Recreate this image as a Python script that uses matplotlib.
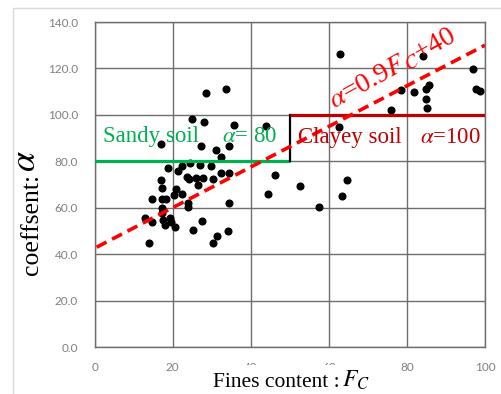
import matplotlib
matplotlib.use("Agg")
import matplotlib.pyplot as plt
from matplotlib.patches import Rectangle

# ---- data ----
fines_content = [17.1, 27.3, 31.1, 34.5, 32.3, 22.3, 24.4, 27.0, 29.8, 18.7, 21.4, 23.6,
                 24.2, 25.9, 27.7, 32.3, 34.4, 17.0, 30.4, 26.5, 17.2, 20.8, 20.4, 22.3,
                 14.6, 17.3, 18.3, 24.0, 24.0, 34.4, 17.2, 17.3, 12.9, 14.6, 17.6, 19.3,
                 18.0, 19.5, 20.7, 27.4, 25.3, 14.0, 31.4, 34.1, 30.2,
                 28.5, 33.6, 25.0, 28.0, 35.8,
                 43.8, 62.6, 46.3, 52.6, 44.5, 64.7, 63.3, 57.4, 62.8,
                 84.2, 78.4, 81.8, 85.7, 85.0, 85.0, 85.2, 76.0, 97.0, 97.6, 98.7]
alpha_coef = [87.6, 86.7, 84.9, 86.6, 81.9, 78.0, 79.1, 78.4, 78.0, 77.0, 76.0, 73.4,
              72.3, 72.9, 72.7, 74.8, 74.8, 72.0, 72.3, 69.8, 68.4, 68.1, 65.5, 65.9,
              63.8, 63.6, 63.6, 62.2, 60.5, 62.2, 59.8, 57.6, 55.7, 54.0, 54.7, 55.4,
              52.6, 53.7, 51.6, 54.4, 50.4, 44.7, 48.0, 50.1, 44.7,
              109.6, 111.2, 98.3, 97.1, 95.8,
              95.2, 94.9, 74.1, 69.4, 65.9, 72.0, 65.1, 60.5, 126.1,
              125.5, 110.7, 110.0, 112.9, 111.0, 106.7, 103.1, 102.1, 119.8, 111.0, 110.3]

fit_x = [0.5, 100]
fit_y = [43.0, 130.0]

sandy_x = [0, 50]
sandy_y = [80, 80]
step_x = [50, 50]
step_y = [80, 100]
clayey_x = [50, 100]
clayey_y = [100, 100]

x_ticks = [0, 20, 40, 60, 80, 100]
y_ticks = [0, 20, 40, 60, 80, 100, 120, 140]

# ---- figure ----
plt.rcParams['mathtext.fontset'] = 'stix'
plt.rcParams['lines.scale_dashes'] = False
serif = ['Liberation Serif', 'DejaVu Serif']

fig = plt.figure(figsize=(5.02, 3.94), dpi=100)
fig.patches.append(Rectangle((13/502, -0.1), 1.2, (394-8)/394 + 0.1,
                             transform=fig.transFigure, fill=False,
                             edgecolor='#d9d9d9', linewidth=1.0, zorder=0))
ax = fig.add_axes([94.7/502, 1-347/394, (485-94.7)/502, (347-22)/394])

ax.set_xlim(0, 100)
ax.set_ylim(0, 140)
ax.set_xticks(x_ticks)
ax.set_yticks(y_ticks)
ax.set_xticklabels([str(v) for v in x_ticks])
ax.set_yticklabels([f"{v:.1f}" for v in y_ticks])
ax.tick_params(length=0, labelsize=8.5, labelcolor='#7f7f7f')
ax.tick_params(axis='y', pad=12)
ax.tick_params(axis='x', pad=11)
for lab in ax.get_xticklabels() + ax.get_yticklabels():
    lab.set_fontfamily(['Lato', 'DejaVu Sans'])
ax.grid(True, color='#6e6e6e', linewidth=1.0)
ax.set_axisbelow(True)
for s in ax.spines.values():
    s.set_color('#6e6e6e')
    s.set_linewidth(1.0)

ax.plot(fines_content, alpha_coef, 'o', color='black', markersize=4.8, zorder=3)

ax.plot(sandy_x, sandy_y, color='#00b050', linewidth=2.3, zorder=4, solid_capstyle='butt')
ax.plot(step_x, step_y, color='black', linewidth=1.6, zorder=4)
ax.plot(clayey_x, clayey_y, color='#c00000', linewidth=2.3, zorder=4, solid_capstyle='butt')
ax.plot(fit_x, fit_y, color='#ff0000', linewidth=2.6, dashes=(8, 4.5), zorder=5)

ax.text(2.0, 88.5, 'Sandy soil', color='#00b050', fontsize=16.5, family=serif,
        ha='left', va='baseline', zorder=6)
ax.text(32.5, 88.5, r'$\alpha$= 80', color='#00b050', fontsize=16.5, family=serif,
        ha='left', va='baseline', zorder=6)
ax.text(52.2, 88.0, 'Clayey soil', color='#c00000', fontsize=16.5, family=serif,
        ha='left', va='baseline', zorder=6)
ax.text(83.3, 88.0, r'$\alpha$=100', color='#c00000', fontsize=16.5, family=serif,
        ha='left', va='baseline', zorder=6)
ax.text(61.5, 102.5, r'$\alpha$=0.9$F$$_C$+40', color='#ff0000', fontsize=20, family=serif,
        ha='left', va='baseline', rotation=29, rotation_mode='anchor', zorder=6)

# x label with white background covering part of tick labels
fig.patches.append(Rectangle((205/502, 0), (378-205)/502, (394-365)/394,
                             transform=fig.transFigure, facecolor='white',
                             edgecolor='none', zorder=2))
fig.text(213/502, 1-387/394, 'Fines content : ', fontsize=15.5, family=serif,
         ha='left', va='baseline', zorder=3)
fig.text(342/502, 1-387/394, r'$F_C$', fontsize=17, family=serif,
         ha='left', va='baseline', zorder=3)

# y label
fig.text(43/502, 1-275/394, 'coeffsent:', fontsize=18.5, family=serif, rotation=90,
         ha='right', va='bottom', zorder=3)
fig.text(43/502, 1-172/394, r'$\alpha$', fontsize=26, family=serif, rotation=90,
         ha='right', va='bottom', zorder=3)

fig.savefig('out.png', dpi=100)
